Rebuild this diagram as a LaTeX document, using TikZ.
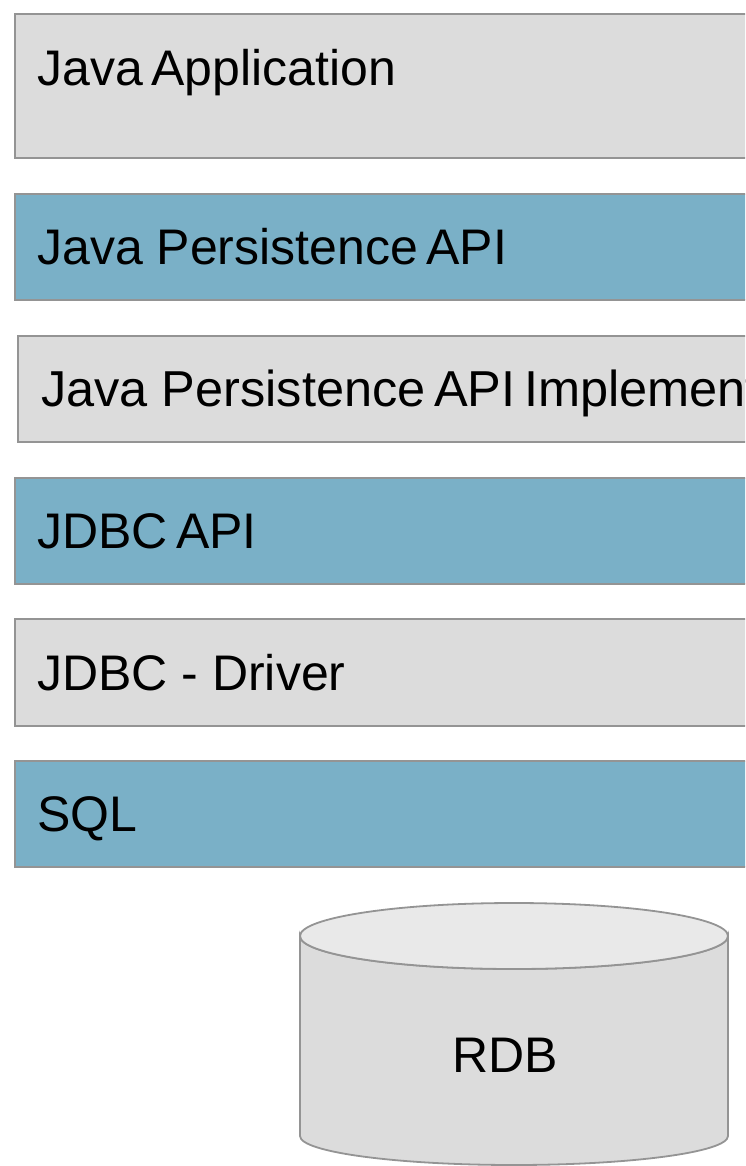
\documentclass[tikz,border=0pt]{standalone}
\usepackage{fontspec}
\setmainfont{Liberation Sans}
\newcommand{\narrowsp}{\hspace{0.17em}}
\definecolor{boxgray}{RGB}{220,220,220}
\definecolor{boxblue}{RGB}{122,176,199}
\definecolor{edgegray}{RGB}{148,148,148}
\definecolor{topgray}{RGB}{233,233,233}
\tikzset{
  layerbox/.style={draw=edgegray, line width=1.8pt},
  graylayer/.style={layerbox, fill=boxgray},
  bluelayer/.style={layerbox, fill=boxblue},
  layertext/.style={anchor=base west, inner sep=0pt, font=\fontsize{50}{60}\selectfont, text=black},
}
\begin{document}
\begin{tikzpicture}[x=1pt,y=-1pt]
\useasboundingbox (0,0) rectangle (745,1166);
\clip (0,0) rectangle (745,1166);
\fill[white] (0,0) rectangle (745,1166);
% layers
\draw[graylayer] (15,14) rectangle (770,158);
\node[layertext] (app) at (37,86) {Java\narrowsp Application};
\draw[bluelayer] (15,194) rectangle (770,300);
\node[layertext] (jpa) at (37,264) {Java Persistence\narrowsp API};
\draw[graylayer] (18,336) rectangle (770,442);
\node[layertext, font=\fontsize{50.5}{60}\selectfont] (jpaimpl) at (41,406) {Java Persistence\narrowsp API\narrowsp Implementation};
\draw[bluelayer] (15,478) rectangle (770,584);
\node[layertext] (jdbcapi) at (37,548) {JDBC\narrowsp API};
\draw[graylayer] (15,619) rectangle (770,726);
\node[layertext] (driver) at (37,690) {JDBC - Driver};
\draw[bluelayer] (15,761) rectangle (770,867);
\node[layertext] (sql) at (37,831) {SQL};
% cylinder
\draw[draw=edgegray, line width=1.8pt, fill=boxgray]
  (300,936) -- (300,1136) arc[start angle=180, end angle=0, x radius=214, y radius=29]
  -- (728,936) arc[start angle=0, end angle=180, x radius=214, y radius=33] -- cycle;
\draw[draw=edgegray, line width=1.8pt, fill=topgray] (514,936) ellipse[x radius=214, y radius=33];
\node[anchor=base, inner sep=0pt, font=\fontsize{50}{60}\selectfont] (rdb) at (505,1072) {RDB};
\end{tikzpicture}
\end{document}
